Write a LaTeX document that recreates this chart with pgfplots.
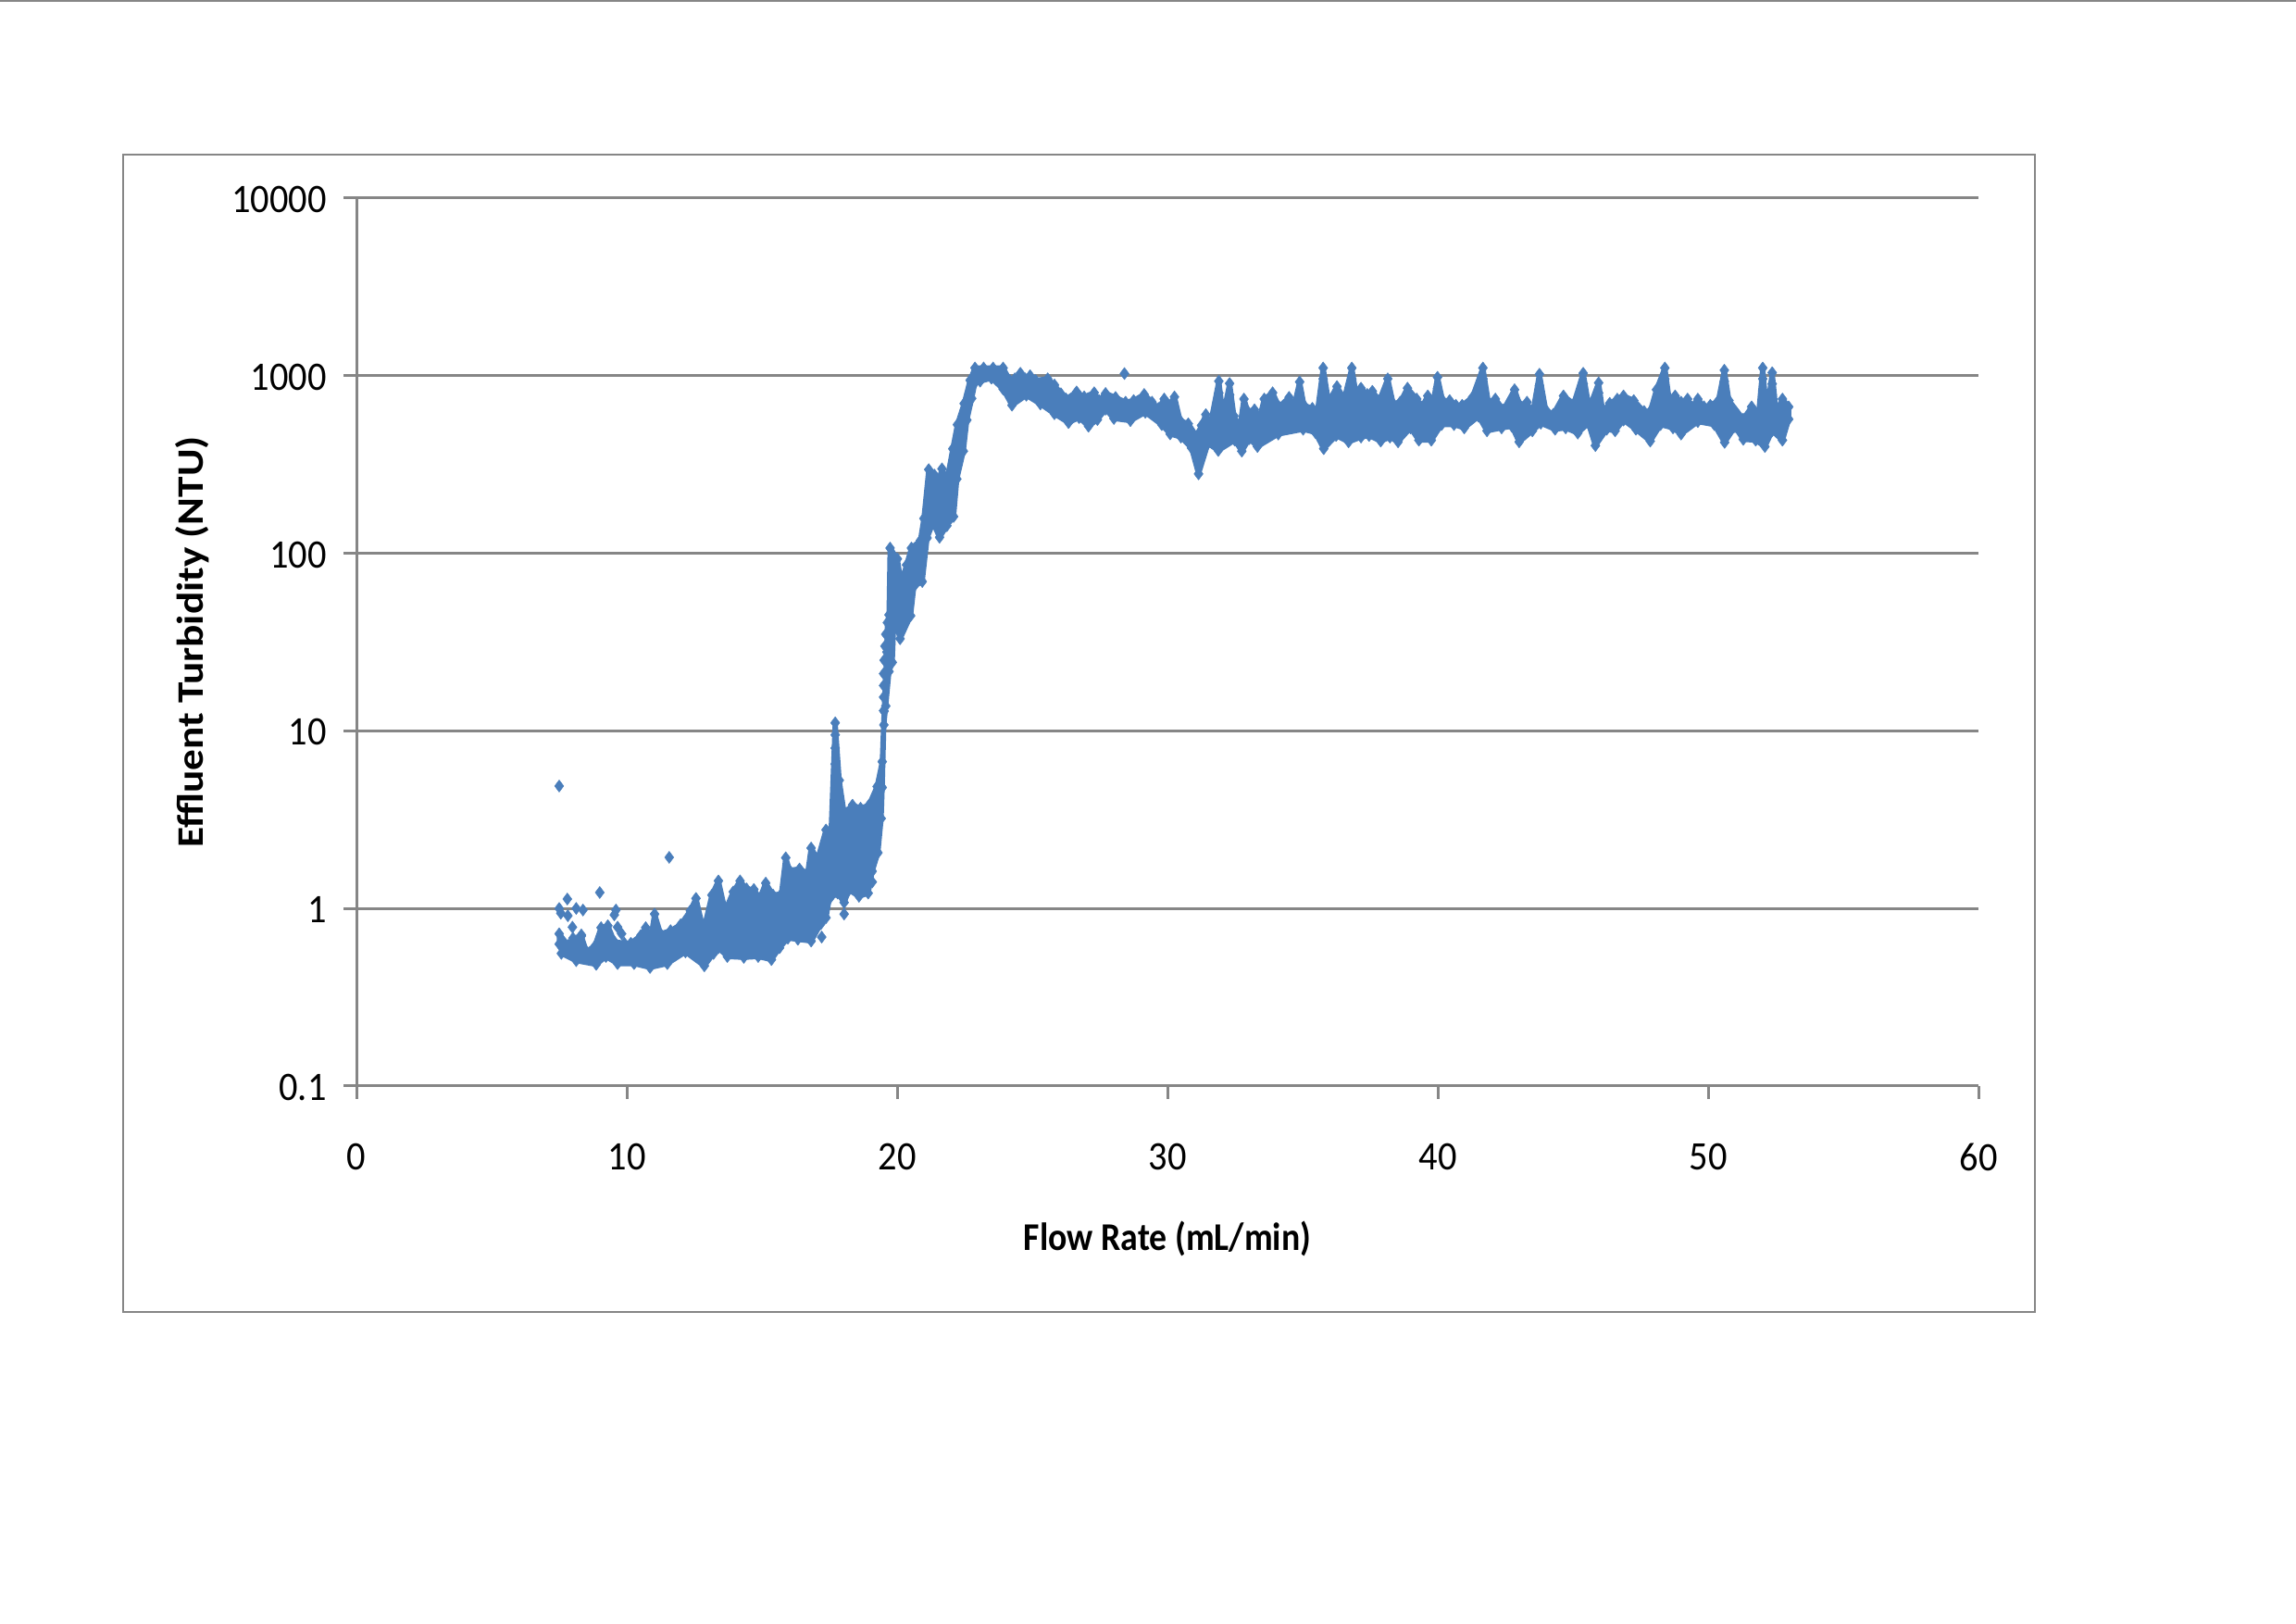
\documentclass[border=0pt]{standalone}
\usepackage{pgfplots}
\pgfplotsset{compat=1.18}
\usepackage{pgfplotstable}
\usepackage{graphicx}
\usepackage{fontspec}
\setmainfont{Carlito}
\definecolor{pts}{HTML}{4A7EBB}
\definecolor{gridc}{HTML}{868686}
\newcommand{\tl}[1]{\scalebox{1}[1.08]{#1}}
\pgfplotstableread{
x y
7.50 .63
7.50 .72
7.83 .62
8.01 .68
8.32 .70
8.50 .575
8.81 .61
9.05 .78
9.30 .80
9.54 .65
9.91 .637
10.15 .637
10.52 .705
10.70 .78
10.89 .68
11.03 .93
11.25 .72
11.62 .75
11.99 .81
12.35 .97
12.56 1.14
12.84 .75
13.15 1.19
13.39 1.43
13.64 .97
13.94 1.24
14.19 1.43
14.43 1.29
14.70 1.28
14.92 1.14
15.14 1.39
15.41 1.19
15.72 1.21
15.88 1.93
16.02 1.64
16.39 1.67
16.69 1.58
16.82 2.19
17.06 1.89
17.37 2.77
17.55 2.55
17.71 11.1
17.86 5.27
18.04 3.45
18.35 3.82
18.65 3.67
18.96 3.82
19.26 4.86
19.45 6.71
19.52 12.9
19.62 27.8
19.64 40.7
19.70 45
19.74 107
20.01 93
20.15 67.4
20.35 86
20.53 107
20.86 118
20.99 157
21.17 296
21.38 276
21.41 217
21.66 299
21.84 255
22.06 388
22.23 530
22.48 697
22.70 942
22.88 1106
23.20 1106
23.55 1106
23.92 1106
24.17 942
24.35 961
24.56 1033
24.74 961
24.92 1000
25.12 942
25.57 961
25.82 887
26.06 792
26.25 739
26.64 811
26.92 760
27.29 802
27.47 725
27.71 795
28.08 755
28.45 710
28.75 725
29.14 785
29.43 710
29.67 655
29.88 739
30.06 682
30.26 760
30.47 558
30.77 536
31.08 456
31.26 525
31.42 604
31.57 515
31.90 931
32.06 593
32.30 904
32.46 593
32.67 505
32.83 739
32.97 630
33.22 643
33.40 570
33.58 739
33.89 802
34.13 668
34.50 755
34.68 668
34.89 923
35.05 682
35.36 655
35.54 617
35.76 1106
35.96 710
36.27 869
36.54 739
36.82 1106
36.97 802
37.16 851
37.39 785
37.58 818
37.84 725
38.15 961
38.35 696
38.61 710
38.88 851
39.22 739
39.42 668
39.63 770
39.83 710
39.99 980
40.18 725
40.44 725
40.67 682
40.90 682
41.28 755
41.67 1106
41.87 710
42.13 739
42.43 643
42.84 834
43.04 682
43.30 710
43.50 605
43.76 1020
43.99 643
44.27 605
44.65 770
45.03 696
45.38 1033
45.60 655
45.95 912
46.10 630
46.36 700
46.64 739
46.87 770
47.25 725
47.63 630
47.86 630
48.09 834
48.40 1106
48.55 755
48.78 770
49.00 710
49.24 739
49.39 668
49.62 739
49.85 668
50.08 682
50.38 725
50.60 1074
50.77 725
51.30 569
51.61 668
51.87 617
52.02 1106
52.17 605
52.37 1040
52.52 617
52.75 739
52.98 668
52.98 569
52.75 433
52.37 489
52.10 399
51.76 433
51.30 438
50.99 515
50.61 421
50.23 530
49.62 551
49.00 469
48.70 508
48.24 530
47.86 428
47.33 499
46.87 562
46.56 489
46.25 499
45.83 404
45.57 540
45.18 475
44.73 508
44.34 499
43.81 540
43.50 489
43.01 424
42.74 519
42.36 508
41.82 489
41.51 590
40.98 508
40.60 530
40.14 530
39.76 433
39.30 433
38.99 508
38.53 424
38.23 451
37.89 428
37.46 460
37.16 451
36.70 424
36.24 460
35.78 388
35.47 479
35.02 499
34.10 469
33.33 399
33.03 442
32.75 376
32.49 433
31.88 379
31.50 416
31.15 280
30.89 392
30.50 451
30.10 470
29.79 530
29.18 622
28.63 558
28.02 574
27.71 647
27.41 566
27.08 519
26.73 581
26.34 544
25.82 610
25.30 693
24.78 776
24.25 682
23.92 841
23.49 968
23.07 931
22.88 912
22.76 745
22.58 562
22.45 376
22.21 262
22.09 161
21.84 143
21.57 123
21.33 149
21.11 122
20.93 69.3
20.62 65
20.50 44.5
20.11 33
19.89 44.5
19.82 24.3
19.70 21.6
19.58 13.8
19.51 10.8
19.45 4.8
19.41 3.21
19.29 2.06
19.08 1.62
18.93 1.22
18.59 1.17
18.22 1.27
18.04 1.08
17.80 1.22
17.49 1.13
17.37 .887
17.18 .82
16.82 .655
16.33 .67
15.96 .68
15.65 .60
15.35 .515
14.86 .536
14.33 .53
13.72 .536
13.39 .60
13.21 .558
12.87 .475
12.17 .569
11.50 .489
10.86 .465
10.27 .489
9.66 .489
9.23 .536
8.87 .484
8.13 .508
7.58 .558
}\band
\pgfplotstableread{
x y
7.50 4.89
7.50 1.0
7.56 .94
7.80 1.13
7.82 .91
8.13 1.0
8.38 .98
7.99 .785
8.32 .71
9.00 1.23
9.60 .98
9.54 .92
9.66 .785
9.81 .72
11.57 1.94
19.08 1.41
18.04 .93
17.21 .69
28.41 1028
17.71 9.5
17.71 8
17.71 6.5
17.71 5.5
17.71 4.5
19.50 13
19.50 15.5
19.50 18
19.50 21
19.52 25
19.55 30
19.58 35
31.90 800
31.90 700
32.30 780
32.30 680
34.89 800
34.89 700
35.76 960
35.76 830
35.76 720
36.82 960
36.82 830
36.82 720
38.15 830
38.15 720
39.99 850
39.99 740
41.67 960
41.67 830
43.76 880
43.76 760
45.38 900
45.38 790
45.38 690
45.95 800
45.95 700
48.40 960
48.40 830
48.40 720
50.60 930
50.60 810
50.60 700
52.02 960
52.02 830
52.02 720
52.37 900
52.37 780
52.37 680
}\single
\begin{document}
\begin{tikzpicture}[x=1mm,y=1mm]
\path[use as bounding box] (0,0) rectangle (248,175.4);
\draw[gridc,line width=0.2mm] (0,175.3) -- (248,175.3);
\draw[gridc,line width=0.28mm] (13.3,33.7) rectangle (219.8,158.7);
\begin{axis}[
  at={(38.5mm,58.1mm)},anchor=south west,
  scale only axis,width=175.2mm,height=95.9mm,
  xmin=0,xmax=60,ymode=log,ymin=0.1,ymax=10000,
  log basis y=10,
  xtick={0,10,...,60},
  xticklabels={\tl{0},\tl{10},\tl{20},\tl{30},\tl{40},\tl{50},\tl{60}},
  ytick={0.1,1,10,100,1000,10000},
  yticklabels={\tl{0.1},\tl{1},\tl{10},\tl{100},\tl{1000},\tl{10000}},
  minor y tick num=0,yminorticks=false,
  axis x line*=bottom,axis y line*=left,
  axis line style={gridc,line width=0.3mm,-},
  ymajorgrids,grid style={gridc,line width=0.3mm},
  tick style={gridc,line width=0.3mm},
  tick align=outside,major tick length=1.4mm,
  tick label style={font=\fontsize{11.5}{13}\selectfont,black},
  xticklabel style={yshift=-3.6mm},
  yticklabel style={xshift=-0.6mm,yshift=-0.15mm},
  xlabel={\scalebox{0.935}[1.05]{\textbf{Flow Rate (mL/min)}}},
  ylabel={\scalebox{1.12}[1]{\textbf{Effluent Turbidity (NTU)}}},
  label style={font=\fontsize{11.5}{13}\selectfont,black},
  xlabel style={at={(axis description cs:0.5,-0.172)},anchor=center},
  ylabel style={at={(axis description cs:-0.101,0.5)},anchor=center},
  clip=false,
]
\addplot[fill=pts,draw=pts,line width=0.55mm,line join=round,mark=diamond*,mark size=1.85pt,
  mark options={solid,fill=pts,draw=pts,line width=0.05mm}] table[x=x,y=y] {\band};
\addplot[only marks,mark=diamond*,mark size=1.85pt,
  mark options={solid,fill=pts,draw=pts,line width=0.05mm}] table[x=x,y=y] {\single};
\end{axis}
\end{tikzpicture}
\end{document}
